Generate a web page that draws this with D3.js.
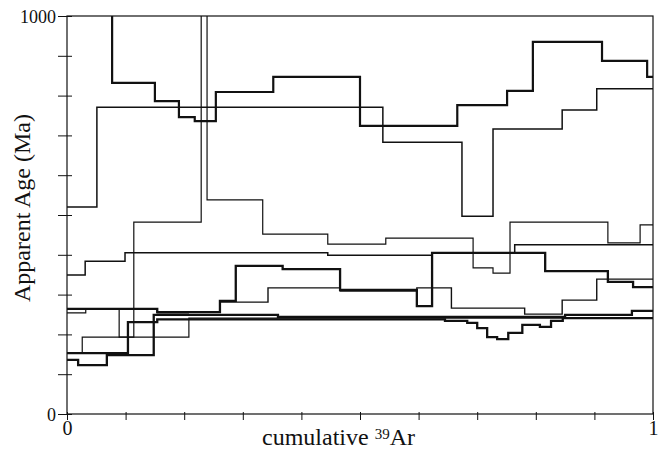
<!DOCTYPE html>
<html>
<head>
<meta charset="utf-8">
<script src="https://cdn.jsdelivr.net/npm/d3@7"></script>
<style>
body { margin: 0; background: #fff; }
text { font-family: "Liberation Serif", "Times New Roman", serif; fill: #111; }
</style>
</head>
<body>
<div id="chart"></div>
<script>
// step spectra: cumulative 39Ar at each step edge, apparent age (Ma) per step
var cumA = [0, 0.051, 0.539, 0.674, 0.727, 0.845, 0.904, 1];
var ageA = [520, 771, 683, 497, 716, 764, 817];

var cumB = [0, 0.077, 0.150, 0.191, 0.218, 0.254, 0.352, 0.500, 0.666, 0.751, 0.795, 0.913, 0.990, 1];
var ageB = [1100, 832, 786, 746, 736, 809, 847, 724, 776, 812, 935, 887, 847];

var cumD = [0, 0.031, 0.099, 0.445, 0.623, 0.764, 1];
var ageD = [349, 384, 405, 399, 405, 425];

var cumE = [0, 0.026, 0.114, 0.229, 0.239, 0.334, 0.445, 0.544, 0.693, 0.727, 0.756, 0.923, 0.978, 1];
var ageE = [153, 193, 482, 1100, 538, 452, 427, 442, 367, 354, 482, 430, 475];

var cumH = [0, 0.154, 0.261, 0.288, 0.368, 0.466, 0.597, 0.623, 0.816, 0.923, 0.966, 1];
var ageH = [264, 256, 284, 372, 364, 312, 271, 405, 359, 332, 319];

var cumM = [0, 0.154, 0.207, 0.261, 0.343, 0.466, 0.597, 0.656, 0.781, 0.845, 0.904, 1];
var ageM = [264, 254, 256, 281, 317, 309, 317, 266, 251, 286, 339];

var cumI = [0, 0.019, 0.068, 0.148, 0.360, 0.850, 0.964, 1];
var ageI = [136, 123, 148, 249, 244, 249, 259];

var cumJ = [0, 0.104, 0.154, 0.645, 0.683, 0.700, 0.717, 0.734, 0.753, 0.777, 0.807, 0.826, 0.846, 1];
var ageJ = [153, 231, 238, 234, 229, 216, 193, 188, 204, 224, 219, 234, 241];

var cumL = [0, 0.032, 0.089, 0.208, 1];
var ageL = [254, 264, 193, 241];

var xTickValues = [0, 0.1, 0.2, 0.3, 0.4, 0.5, 0.6, 0.7, 0.8, 0.9, 1];
var xTickLabels = [0, 1];
var yTickValues = [0, 100, 200, 300, 400, 500, 600, 700, 800, 900, 1000];
var yTickLabels = [0, 1000];

var series = [
  { cum: cumA, age: ageA, w: 1.5 },
  { cum: cumB, age: ageB, w: 2.2 },
  { cum: cumD, age: ageD, w: 1.5 },
  { cum: cumE, age: ageE, w: 1.2 },
  { cum: cumH, age: ageH, w: 2.3 },
  { cum: cumM, age: ageM, w: 1.4 },
  { cum: cumI, age: ageI, w: 2.3 },
  { cum: cumJ, age: ageJ, w: 2.3 },
  { cum: cumL, age: ageL, w: 1.2 }
];

var margin = { top: 16, right: 9, bottom: 37, left: 67 },
    width  = 662 - margin.left - margin.right,
    height = 451 - margin.top - margin.bottom;

var svg = d3.select("#chart").append("svg")
    .attr("width", 662)
    .attr("height", 451);

var g = svg.append("g")
    .attr("transform", "translate(" + margin.left + "," + margin.top + ")");

var x = d3.scaleLinear().domain([0, 1]).range([0, width]);
var y = d3.scaleLinear().domain([0, 1000]).range([height, 0]);

g.append("clipPath").attr("id", "plot")
  .append("rect").attr("width", width).attr("height", height);

var line = d3.line()
    .x(function(d) { return x(d[0]); })
    .y(function(d) { return y(d[1]); })
    .curve(d3.curveStepAfter);

g.append("g").attr("clip-path", "url(#plot)")
  .selectAll("path")
  .data(series)
  .enter().append("path")
    .attr("d", function(s) {
      var pts = s.age.map(function(a, i) { return [s.cum[i], a]; });
      pts.push([s.cum[s.cum.length - 1], s.age[s.age.length - 1]]);
      return line(pts);
    })
    .style("fill", "none")
    .style("stroke", "#111")
    .style("stroke-width", function(s) { return s.w; })
    .style("stroke-linejoin", "miter");

// frame
g.append("rect")
  .attr("width", width)
  .attr("height", height)
  .style("fill", "none")
  .style("stroke", "#111")
  .style("stroke-width", 1.2);

var xAxis = g.append("g")
  .attr("transform", "translate(0," + height + ")")
  .call(d3.axisBottom(x).tickValues(xTickValues).tickSize(6)
    .tickFormat(function(d) { return xTickLabels.indexOf(d) >= 0 ? d : ""; }));
xAxis.select(".domain").remove();
xAxis.selectAll(".tick line").attr("y1", -2).attr("y2", 6).style("stroke", "#111");
xAxis.selectAll(".tick text")
  .attr("y", 21).attr("dy", 0)
  .style("font-family", "Liberation Serif")
  .style("font-size", "20px");

var yAxis = g.append("g")
  .call(d3.axisLeft(y).tickValues(yTickValues).tickSize(9)
    .tickFormat(function(d) { return yTickLabels.indexOf(d) >= 0 ? d : ""; }));
yAxis.select(".domain").remove();
yAxis.selectAll(".tick line").attr("x1", 5).attr("x2", -9).style("stroke", "#111");
yAxis.selectAll(".tick text")
  .attr("x", -11).attr("dy", "0.35em")
  .style("font-family", "Liberation Serif")
  .style("font-size", "18px");

// axis titles
svg.append("text")
  .attr("transform", "translate(30," + (margin.top + 192) + ") rotate(-90)")
  .attr("text-anchor", "middle")
  .style("font-size", "24px")
  .text("Apparent Age (Ma)");

var xt = svg.append("text")
  .attr("x", 262)
  .attr("y", 445)
  .style("font-size", "24px");
xt.append("tspan").text("cumulative ");
xt.append("tspan").attr("dy", -6).style("font-size", "15px").text("39");
xt.append("tspan").attr("dy", 6).text("Ar");
</script>
</body>
</html>
